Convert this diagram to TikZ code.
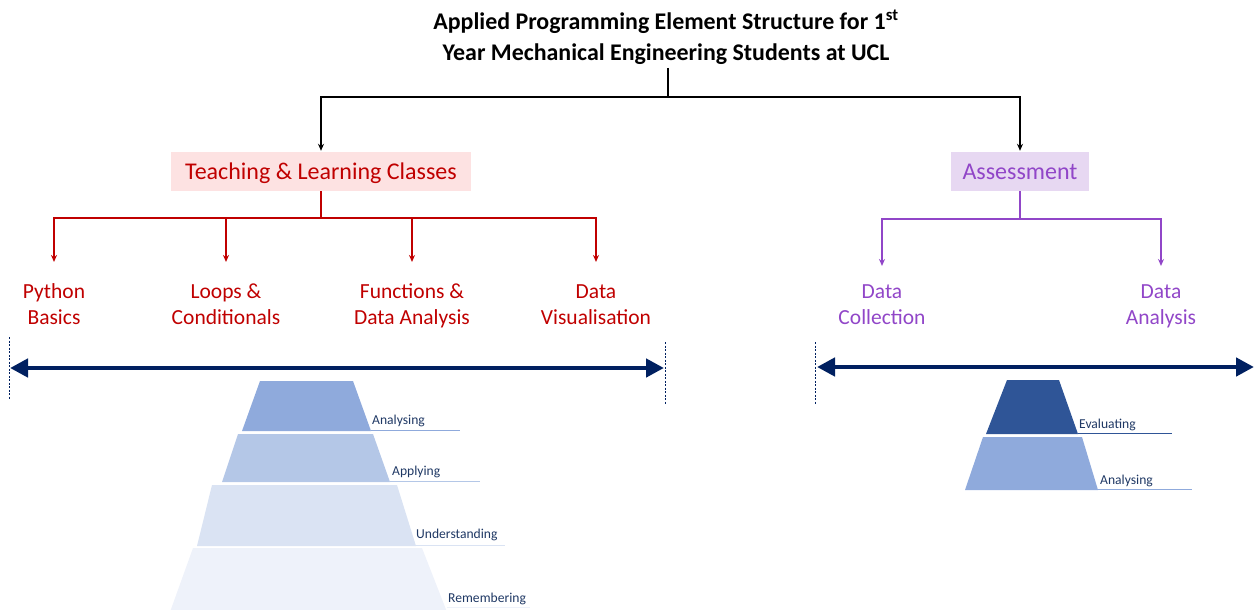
\documentclass[tikz,border=0pt]{standalone}
\usepackage{fontspec}
\setmainfont{Carlito}
\usetikzlibrary{arrows.meta}
\definecolor{ured}{HTML}{C00000}
\definecolor{pinkbg}{HTML}{FDE2E2}
\definecolor{upurple}{HTML}{9146C8}
\definecolor{lavbg}{HTML}{E7D8F2}
\definecolor{navy}{HTML}{002060}
\definecolor{lblue}{HTML}{1F3864}
\definecolor{pa}{HTML}{8FAADC}
\definecolor{pb}{HTML}{B4C7E7}
\definecolor{pc}{HTML}{DAE3F3}
\definecolor{pd}{HTML}{EEF2FA}
\definecolor{pe}{HTML}{2F5597}
\tikzset{
  blk/.style={draw=black, line width=2pt},
  redl/.style={draw=ured, line width=2.2pt},
  purl/.style={draw=upurple, line width=2.2pt},
  tip/.style={-{Stealth[length=7pt,width=6pt]}},
  headbox/.style={inner sep=0pt, minimum height=39pt, text height=15pt, text depth=0pt, font=\fontsize{24}{28}\selectfont},
  sublab/.style={align=center, font=\fontsize{21.5}{26}\selectfont},
  biga/.style={draw=navy, line width=4.5pt, {Triangle[length=18pt,width=18pt]}-{Triangle[length=18pt,width=18pt]}},
  dsh/.style={draw=navy, line width=0.9pt, dash pattern=on 2pt off 1.5pt},
  plab/.style={anchor=base west, inner sep=0pt, text=lblue, font=\fontsize{13.6}{16}\selectfont}
}
\begin{document}
\begin{tikzpicture}[x=1pt,y=-1pt]
\useasboundingbox (0,0) rectangle (1254,610);
% title
\node[align=center, font=\bfseries\fontsize{23.9}{31}\selectfont] (title) at (666,37)
  {Applied Programming Element Structure for 1\textsuperscript{st}\\Year Mechanical Engineering Students at UCL};
% head boxes
\node[headbox, fill=pinkbg, text=ured, minimum width=300pt] (tlc) at (321,171.5) {Teaching \& Learning Classes};
\node[headbox, fill=lavbg, text=upurple, minimum width=138pt] (asm) at (1020,171.5) {Assessment};
% top connectors
\coordinate (tj) at (668,97);
\draw[blk] (title.south -| tj) -- (tj);
\draw[blk,tip,shorten >=1pt] (tj) -| (tlc.north);
\draw[blk,tip,shorten >=1pt] (tj) -| (asm.north);
% sub labels
\node[sublab, text=ured] (py) at (54,306) {Python\strut\\Basics\strut};
\node[sublab, text=ured] (lc) at (226,306) {Loops \&\strut\\Conditionals\strut};
\node[sublab, text=ured] (fd) at (412,306) {Functions \&\strut\\Data Analysis\strut};
\node[sublab, text=ured] (dv) at (596,306) {Data\strut\\Visualisation\strut};
\node[sublab, text=upurple] (dc) at (882,306) {Data\strut\\Collection\strut};
\node[sublab, text=upurple] (da) at (1161,306) {Data\strut\\Analysis\strut};
% red connectors
\coordinate (rj) at (321,218);
\draw[redl] (tlc.south) -- (rj);
\foreach \t in {py,lc,fd,dv}{
  \draw[redl,tip] (rj) -| ([yshift=14.5pt]\t.north);
}
% purple connectors
\coordinate (pj) at (1020,219);
\draw[purl] (asm.south) -- (pj);
\foreach \t in {dc,da}{
  \draw[purl,tip] (pj) -| ([yshift=10.5pt]\t.north);
}
% scale arrows
\coordinate (la) at (10,368);
\coordinate (lb) at (664,368);
\coordinate (ra) at (817,367);
\coordinate (rb) at (1254,367);
\draw[biga] (la) -- (lb);
\draw[biga] (ra) -- (rb);
\draw[dsh] (9,337) -- (9,400);
\draw[dsh] (665.5,342) -- (665.5,404);
\draw[dsh] (815.5,342) -- (815.5,404);
% left pyramid
\fill[pd] (193,548) -- (422,548) -- (447,612) -- (170,612) -- cycle;
\draw[pd, line width=1.6pt] (447,607.5) -- (530,607.5);
\node[plab] (rem) at (448,602) {Remembering};
\fill[pc] (212,485) -- (397,485) -- (416,546) -- (197,546) -- cycle;
\draw[pc, line width=1.6pt] (416,545.5) -- (505,545.5);
\node[plab] (und) at (416,538) {Understanding};
\fill[pb] (238,434) -- (373,434) -- (390,482) -- (222,482) -- cycle;
\draw[pb, line width=1.6pt] (390,481.5) -- (480,481.5);
\node[plab] (app) at (392,475) {Applying};
\fill[pa] (260,381) -- (353,381) -- (371,431) -- (242,431) -- cycle;
\draw[pa, line width=1.6pt] (371,430.5) -- (460,430.5);
\node[plab] (ana) at (372,424) {Analysing};
% right pyramid
\fill[pe] (1007,380) -- (1059,380) -- (1078,434) -- (986,434) -- cycle;
\draw[pe, line width=1.6pt] (1078,433.5) -- (1172,433.5);
\node[plab] (eva) at (1079,428) {Evaluating};
\fill[pa] (983,437) -- (1082,437) -- (1098,490) -- (965,490) -- cycle;
\draw[pa, line width=1.6pt] (1098,489.5) -- (1192,489.5);
\node[plab] (ana2) at (1100,484) {Analysing};
\end{tikzpicture}
\end{document}
